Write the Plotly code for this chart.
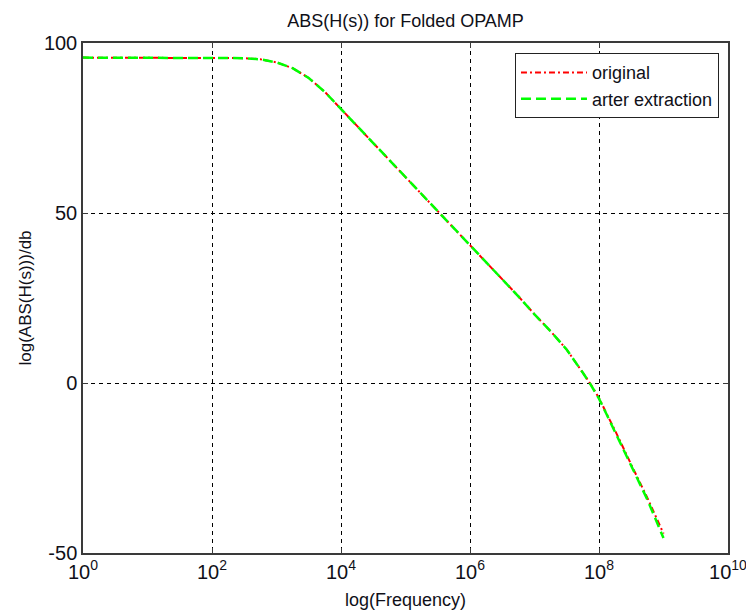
import plotly.graph_objects as go

# Frequency sample points (decades, log10 of Hz)
log_freq = [0.0, 0.5, 1.0, 1.5, 2.0, 2.25, 2.5, 2.75, 3.0, 3.25, 3.5, 3.75,
            4.0, 4.25, 4.5, 4.75, 5.0, 5.25, 5.5, 5.75, 6.0, 6.25, 6.5, 6.75,
            7.0, 7.25, 7.5, 7.625, 7.75, 7.875, 8.0, 8.125, 8.25, 8.5, 8.75, 9.0]

# Magnitude response in dB
gain_original = [95.7, 95.7, 95.7, 95.7, 95.7, 95.65, 95.55, 95.2, 94.3, 92.6, 89.7, 85.6,
                 80.6, 75.5, 70.6, 65.7, 60.7, 55.6, 50.6, 45.6, 40.6, 35.7, 30.6, 25.5,
                 20.2, 15.2, 9.8, 6.5, 3.0, -0.5, -4.4, -9.3, -14.0, -24.0, -33.8, -44.3]
gain_extracted = [95.7, 95.7, 95.7, 95.7, 95.7, 95.65, 95.55, 95.2, 94.3, 92.6, 89.7, 85.6,
                  80.6, 75.5, 70.6, 65.7, 60.7, 55.6, 50.6, 45.6, 40.6, 35.7, 30.6, 25.5,
                  20.2, 15.2, 9.8, 6.5, 3.0, -0.6, -4.6, -9.5, -14.4, -24.4, -34.3, -45.6]

freq = [10 ** e for e in log_freq]

x_tick_exp = [0, 2, 4, 6, 8, 10]
x_tick_vals = [10 ** e for e in x_tick_exp]
x_tick_text = [f"10<sup>{e}</sup>" for e in x_tick_exp]
y_tick_vals = [-50, 0, 50, 100]
y_tick_text = ["-50", "0", "50", "100"]

FONT = "Liberation Sans, Arial, sans-serif"
TEXT = "#101018"

fig = go.Figure()
fig.add_trace(go.Scatter(
    x=freq, y=gain_original, mode="lines", name="original", legendgroup="a",
    line=dict(color="#ff0000", width=2, dash="6px,3px,2px,3px"),
))
fig.add_trace(go.Scatter(
    x=freq, y=gain_extracted, mode="lines", name="arter extraction", legendgroup="b",
    line=dict(color="#00ff00", width=2.5, dash="10px,5px"),
))

axis_common = dict(
    showline=True, linecolor="#3a3a3a", linewidth=1.5, mirror="ticks",
    ticks="inside", ticklen=5, tickcolor="#3a3a3a", tickwidth=1,
    showgrid=True, gridcolor="#000000", gridwidth=1, griddash="4px,4px",
    zeroline=False, ticklabeloverflow="allow", automargin=False,
    tickfont=dict(family=FONT, size=20, color=TEXT),
)

fig.update_xaxes(
    type="log", range=[0, 10], tickvals=x_tick_vals, ticktext=x_tick_text,
    title=dict(text="log(Frequency)", font=dict(family=FONT, size=18, color=TEXT),
               standoff=12),
    **axis_common,
)
fig.update_yaxes(
    range=[-50, 100], tickvals=y_tick_vals, ticktext=y_tick_text,
    title=dict(text="log(ABS(H(s)))/db", font=dict(family=FONT, size=17, color=TEXT),
               standoff=8),
    **axis_common,
)

fig.update_layout(
    width=746, height=614,
    margin=dict(l=83, r=18, t=43, b=61, autoexpand=False),
    paper_bgcolor="white", plot_bgcolor="white",
    title=dict(text="ABS(H(s)) for Folded OPAMP", x=0.5, xref="paper", xanchor="center",
               y=0.967, yanchor="middle",
               font=dict(family=FONT, size=18, color=TEXT)),
    showlegend=True,
    legend=dict(x=0.986, y=0.98, xanchor="right", yanchor="top",
                bgcolor="white", bordercolor="#222222", borderwidth=1,
                itemwidth=66, tracegroupgap=0,
                font=dict(family=FONT, size=18, color=TEXT)),
)

fig.write_html("out.html")
